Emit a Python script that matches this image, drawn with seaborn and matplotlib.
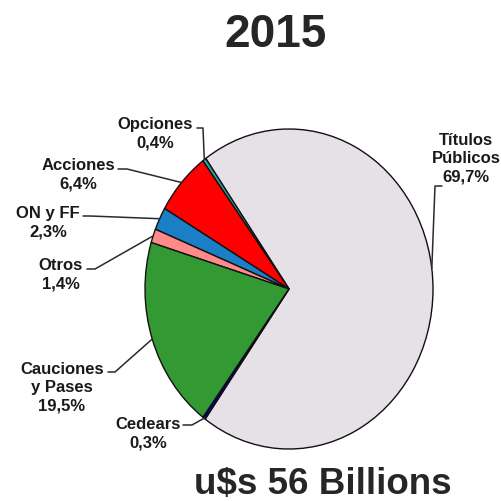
import numpy as np
import matplotlib
matplotlib.use("Agg")
import matplotlib.pyplot as plt
import seaborn as sns

# data
categories = ["Títulos\nPúblicos", "Opciones", "Acciones", "ON y FF", "Otros",
              "Cauciones\ny Pases", "Cedears"]
shares = [69.7, 0.4, 6.4, 2.3, 1.4, 19.5, 0.3]
colors = ["#e5e1e6", "#2fa3a3", "#ff0000", "#1b7fc6", "#ff8a8a", "#339933", "#000080"]
title = "2015"
total_label = "u$s 56 Billions"

# label block centres, leader start and elbow, in image pixels (y down)
label_xy = [(466, 159), (155, 134), (78, 175), (48, 223), (61, 275), (62, 388), (148, 434)]
leader_start = [(442, 187), (197, 129), (118, 170), (83, 217), (87, 270), (108, 373), (183, 426)]
leader_elbow = [(435, 187), (203, 129), (127, 170), (90, 217), (95, 270), (115, 373), (192, 426)]
anchor_frac = [0.53, 0.5, 0.5, 0.5, 0.5, 0.5, 0.5]

sns.set_theme(style="white")
plt.rcParams["font.family"] = ["Liberation Sans", "DejaVu Sans"]

W = H = 502
fig = plt.figure(figsize=(5.02, 5.02), dpi=100)
fig.patch.set_facecolor("white")

# pie is slightly taller than wide in the original
cx, cy, rx, ry = 289, 290, 144, 160
pie_ax = fig.add_axes([(cx - rx) / W, (H - cy - ry) / H, 2 * rx / W, 2 * ry / H])
wedges, _ = pie_ax.pie(shares, colors=colors, startangle=-125.6, counterclock=True,
                       wedgeprops=dict(edgecolor="#111111", linewidth=1.0))
for w in wedges:
    w.set_clip_on(False)
pie_ax.set_aspect("auto")
pie_ax.set_xlim(-1, 1)
pie_ax.set_ylim(-1, 1)
pie_ax.axis("off")

# overlay in pixel coords for labels and leaders
ov = fig.add_axes([0, 0, 1, 1], zorder=3)
ov.set_xlim(0, W)
ov.set_ylim(H, 0)
ov.axis("off")

for i, w in enumerate(wedges):
    th = np.radians(w.theta1 + anchor_frac[i] * (w.theta2 - w.theta1))
    ax_, ay_ = cx + rx * np.cos(th), cy - ry * np.sin(th)
    sx, sy = leader_start[i]
    ex, ey = leader_elbow[i]
    ov.plot([sx, ex, ax_], [sy, ey, ay_], color="#2a2a2a", lw=1.1)
    txt = f"{categories[i]}\n{shares[i]:.1f}%".replace(".", ",")
    ov.text(label_xy[i][0], label_xy[i][1], txt, ha="center", va="center",
            fontsize=12, fontweight="bold", linespacing=1.25, color="#1a1a1a")

ov.text(275.5, 47, title, ha="center", va="baseline", fontsize=33, fontweight="bold")
ov.text(323, 494, total_label, ha="center", va="baseline", fontsize=26.5, fontweight="bold")

fig.savefig("out.png", dpi=100, facecolor="white")
